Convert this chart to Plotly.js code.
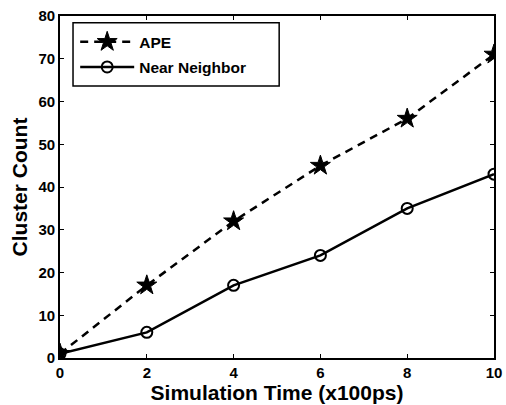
<!DOCTYPE html>
<html>
<head>
<meta charset="utf-8">
<script src="https://cdn.plot.ly/plotly-3.0.1.min.js"></script>
<style>html,body{margin:0;padding:0;background:#fff;}#chart{width:506px;height:405px;}</style>
</head>
<body>
<div id="chart"></div>
<script>
var simTime = [0, 2, 4, 6, 8, 10];
var apeCount = [1, 17, 32, 45, 56, 71];
var nearNeighborCount = [1, 6, 17, 24, 35, 43];
var xTicks = [0, 2, 4, 6, 8, 10];
var yTicks = [0, 10, 20, 30, 40, 50, 60, 70, 80];

var font = 'Liberation Sans, Arial, Helvetica, sans-serif';

var traces = [
  {
    x: simTime, y: apeCount, name: 'APE', type: 'scatter', mode: 'lines+markers',
    legendgroup: 'a',
    line: {color: '#000', width: 2.5, dash: '8px,6px'},
    marker: {symbol: 'star', size: 15, color: '#000', line: {color: '#000', width: 1}}
  },
  {
    x: simTime, y: nearNeighborCount, name: 'Near Neighbor', type: 'scatter', mode: 'lines+markers',
    legendgroup: 'b',
    line: {color: '#000', width: 2.5},
    marker: {symbol: 'circle-open', size: 11, color: '#000', line: {color: '#000', width: 2}}
  }
];

var layout = {
  width: 506, height: 405,
  margin: {l: 60, r: 12, t: 16, b: 47},
  paper_bgcolor: '#fff', plot_bgcolor: '#fff',
  font: {family: font, color: '#000', size: 15},
  showlegend: true,
  legend: {
    x: 0.035, y: 0.973, xanchor: 'left', yanchor: 'top',
    bgcolor: 'rgba(0,0,0,0)', borderwidth: 0,
    font: {family: font, size: 15.5, color: '#000', weight: 'bold'},
    traceorder: 'grouped', tracegroupgap: 2,
    itemwidth: 54
  },
  shapes: [{
    type: 'rect', xref: 'paper', yref: 'paper', layer: 'below',
    x0: 0.03, x1: 0.505, y0: 0.795, y1: 0.98,
    line: {color: '#000', width: 1.5}, fillcolor: '#fff'
  }],
  xaxis: {
    range: [0, 10], tickvals: xTicks, ticktext: xTicks.map(String),
    ticks: 'inside', ticklen: 4, tickwidth: 1, tickcolor: '#000',
    showline: true, linecolor: '#000', linewidth: 1.8, mirror: 'ticks',
    showgrid: false, zeroline: false,
    tickfont: {family: font, size: 15, color: '#000', weight: 'bold'},
    title: {text: 'Simulation Time (x100ps)', standoff: 3, font: {family: font, size: 21, color: '#000', weight: 'bold'}}
  },
  yaxis: {
    range: [0, 80], tickvals: yTicks, ticktext: yTicks.map(String),
    ticks: 'inside', ticklen: 4, tickwidth: 1, tickcolor: '#000',
    showline: true, linecolor: '#000', linewidth: 1.8, mirror: 'ticks',
    showgrid: false, zeroline: false,
    tickfont: {family: font, size: 15, color: '#000', weight: 'bold'},
    title: {text: 'Cluster Count', standoff: 5, font: {family: font, size: 21, color: '#000', weight: 'bold'}}
  }
};

Plotly.newPlot('chart', traces, layout, {displayModeBar: false, staticPlot: true});
</script>
</body>
</html>
